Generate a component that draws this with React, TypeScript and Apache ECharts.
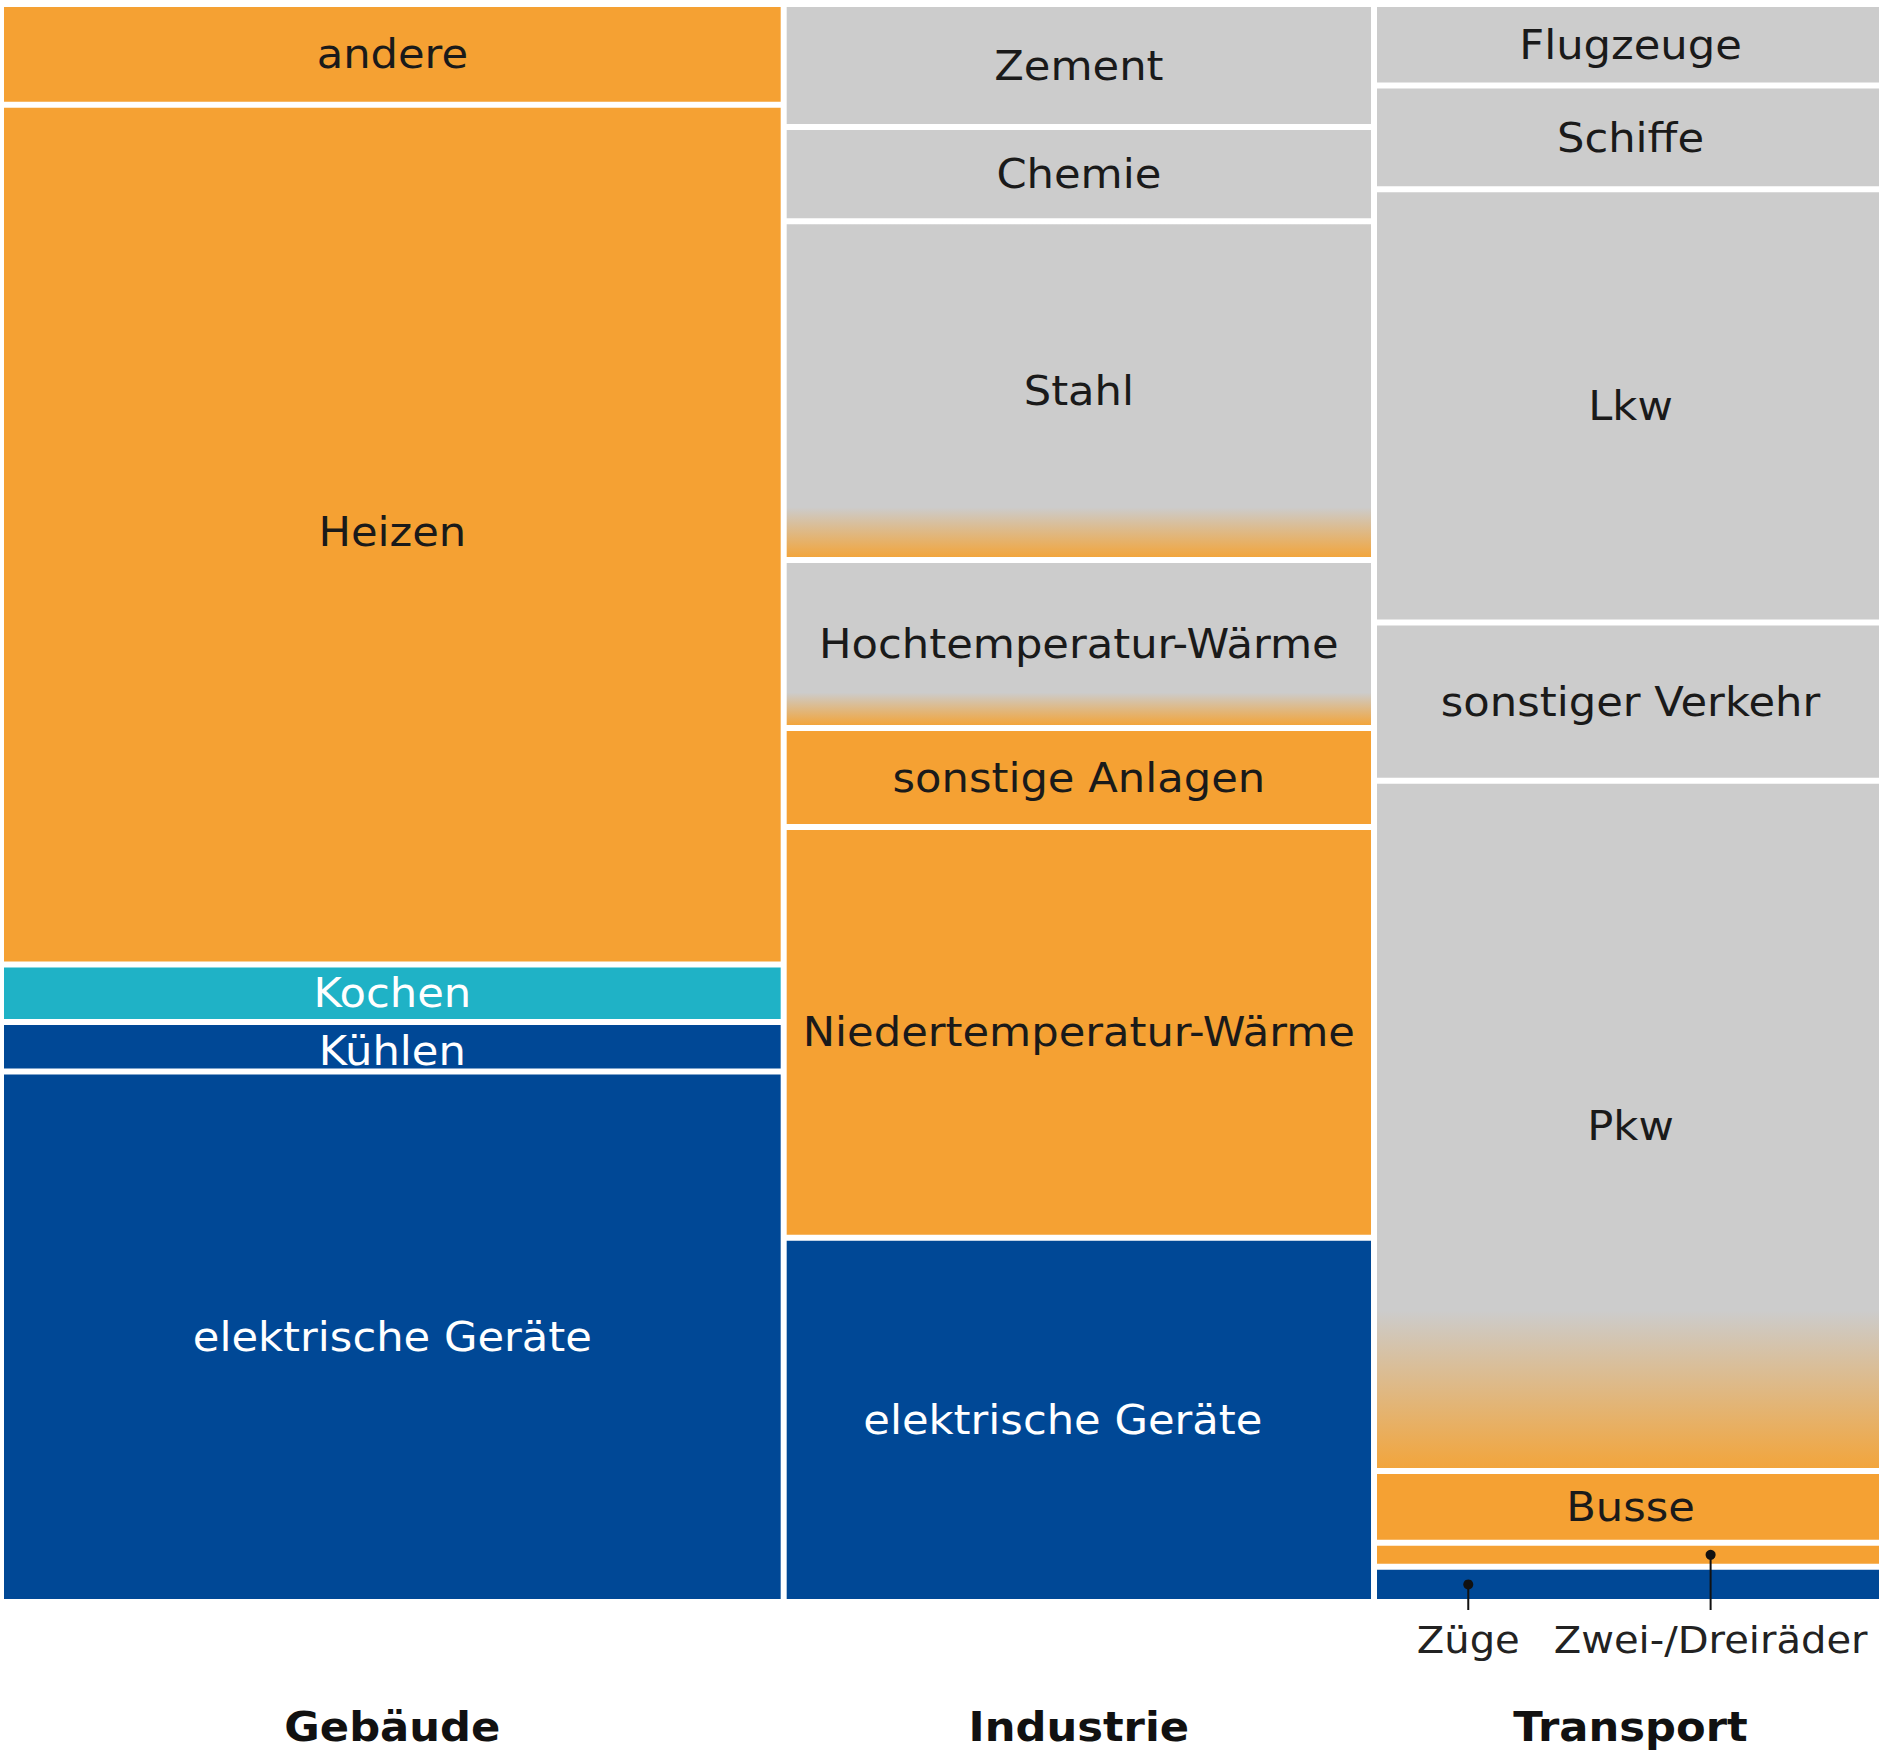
import React, { useEffect, useRef } from "react";
import * as echarts from "echarts";

// ---------- DATA ----------
const sectors = ["Gebäude", "Industrie", "Transport"];
const sectorShares = [41.5, 31.3, 27.2];

// segments listed bottom -> top, values are % within the sector
const gebaeudeLabels = ["elektrische Geräte", "Kühlen", "Kochen", "Heizen", "andere"];
const gebaeudeValues = [33.2, 3.1, 3.6, 53.8, 6.3];
const gebaeudeTypes = ["strom", "strom", "kochen", "waerme", "waerme"];

const industrieLabels = [
  "elektrische Geräte",
  "Niedertemperatur-Wärme",
  "sonstige Anlagen",
  "Hochtemperatur-Wärme",
  "Stahl",
  "Chemie",
  "Zement",
];
const industrieValues = [22.8, 25.7, 6.2, 10.5, 21.2, 5.9, 7.7];
const industrieTypes = ["strom", "waerme", "waerme", "mixed", "mixed", "grau", "grau"];

const transportLabels = [
  "Züge",
  "Zwei-/Dreiräder",
  "Busse",
  "Pkw",
  "sonstiger Verkehr",
  "Lkw",
  "Schiffe",
  "Flugzeuge",
];
const transportValues = [2.2, 1.5, 4.5, 43.2, 9.9, 27.1, 6.5, 5.1];
const transportTypes = ["strom", "waerme", "waerme", "mixed", "grau", "grau", "grau", "grau"];

// ---------- STYLES ----------
const COLORS: Record<string, string> = {
  strom: "#004896",
  waerme: "#F5A133",
  kochen: "#1FB2C6",
  grau: "#CCCCCC",
};
const TEXT_COLORS: Record<string, string> = {
  strom: "#FFFFFF",
  kochen: "#FFFFFF",
  waerme: "#1A1A1A",
  grau: "#1A1A1A",
  mixed: "#1A1A1A",
};
// where the grey->orange fade starts (fraction of cell height from top)
const FADE_START: Record<string, number> = {
  Stahl: 0.85,
  "Hochtemperatur-Wärme": 0.8,
  Pkw: 0.77,
};
// labels drawn outside the cell with a callout (horizontal position as fraction of the column)
const CALLOUTS: Record<string, number> = {
  "Züge": 0.18,
  "Zwei-/Dreiräder": 0.658,
};
const LABEL_DX: Record<string, number> = {
  "Industrie|elektrische Geräte": -16,
};
const LABEL_DY: Record<string, number> = {
  "Gebäude|Kühlen": 4,
  "Gebäude|Heizen": -3,
};
const GAP = 3;
const FONT = '"DejaVu Sans", sans-serif';
const TEXT_STRETCH = 1.055;

type Cell = {
  sector: string;
  label: string;
  type: string;
  x0: number;
  x1: number;
  y0: number;
  y1: number;
};

function buildCells(): Cell[] {
  const groups = [
    { labels: gebaeudeLabels, values: gebaeudeValues, types: gebaeudeTypes },
    { labels: industrieLabels, values: industrieValues, types: industrieTypes },
    { labels: transportLabels, values: transportValues, types: transportTypes },
  ];
  const cells: Cell[] = [];
  let x = 0;
  groups.forEach((g, gi) => {
    const w = sectorShares[gi];
    let y = 0;
    g.values.forEach((v, i) => {
      cells.push({
        sector: sectors[gi],
        label: g.labels[i],
        type: g.types[i],
        x0: x,
        x1: x + w,
        y0: y,
        y1: y + v,
      });
      y += v;
    });
    x += w;
  });
  return cells;
}

export default function App() {
  const ref = useRef<HTMLDivElement>(null);

  useEffect(() => {
    if (!ref.current) return;
    const chart = echarts.init(ref.current, undefined, { renderer: "svg" });
    const cells = buildCells();
    const calloutCells = cells.filter((c) => CALLOUTS[c.label] !== undefined);

    const sectorBounds: number[][] = [];
    let acc = 0;
    sectorShares.forEach((s) => {
      sectorBounds.push([acc, acc + s]);
      acc += s;
    });

    const cellSeries = {
      type: "custom",
      data: cells.map((c) => [c.x0, c.x1, c.y0, c.y1]),
      renderItem: (params: any, api: any) => {
        const c = cells[params.dataIndex];
        const tl = api.coord([c.x0, c.y1]);
        const br = api.coord([c.x1, c.y0]);
        const x = tl[0] + GAP;
        const y = tl[1] + GAP;
        const w = br[0] - tl[0] - 2 * GAP;
        const h = br[1] - tl[1] - 2 * GAP;
        let fill: any = COLORS[c.type];
        if (c.type === "mixed") {
          const s = FADE_START[c.label] ?? 0.8;
          fill = new echarts.graphic.LinearGradient(0, 0, 0, 1, [
            { offset: 0, color: COLORS.grau },
            { offset: s, color: COLORS.grau },
            { offset: 1, color: "#F2A53C" },
          ]);
        }
        const children: any[] = [
          { type: "rect", shape: { x, y, width: w, height: h }, style: { fill } },
        ];
        if (CALLOUTS[c.label] === undefined) {
          const key = c.sector + "|" + c.label;
          const dx = LABEL_DX[key] ?? 0;
          const dy = LABEL_DY[key] ?? 0;
          children.push({
            type: "text",
            z2: 10,
            x: x + w / 2 + dx,
            y: y + h / 2 + dy,
            scaleX: TEXT_STRETCH,
            style: {
              text: c.label,
              x: 0,
              y: 0,
              align: "center",
              verticalAlign: "middle",
              fill: TEXT_COLORS[c.type],
              fontSize: 41,
              fontFamily: FONT,
            },
          });
        }
        return { type: "group", children };
      },
    };

    const calloutSeries = {
      type: "custom",
      z: 5,
      data: calloutCells.map((c) => [c.x0, c.x1, c.y0, c.y1]),
      renderItem: (params: any, api: any) => {
        const c = calloutCells[params.dataIndex];
        const tl = api.coord([c.x0, c.y1]);
        const br = api.coord([c.x1, c.y0]);
        const base = api.coord([c.x0, 0]);
        const frac = CALLOUTS[c.label];
        const px = tl[0] + GAP + (br[0] - tl[0] - 2 * GAP) * frac;
        const py = (tl[1] + br[1]) / 2;
        const lineEnd = base[1] + 8;
        return {
          type: "group",
          children: [
            {
              type: "line",
              shape: { x1: px, y1: py, x2: px, y2: lineEnd },
              style: { stroke: "#111111", lineWidth: 2 },
            },
            { type: "circle", shape: { cx: px, cy: py, r: 5 }, style: { fill: "#111111" } },
            {
              type: "text",
              x: px,
              y: base[1] + 38,
              scaleX: TEXT_STRETCH,
              style: {
                text: c.label,
                x: 0,
                y: 0,
                align: "center",
                verticalAlign: "middle",
                fill: "#222222",
                fontSize: 38,
                fontFamily: FONT,
              },
            },
          ],
        };
      },
    };

    const sectorSeries = {
      type: "custom",
      data: sectorBounds.map((b) => [b[0], b[1]]),
      renderItem: (params: any, api: any) => {
        const b = sectorBounds[params.dataIndex];
        const p0 = api.coord([b[0], 0]);
        const p1 = api.coord([b[1], 0]);
        return {
          type: "text",
          x: (p0[0] + p1[0]) / 2,
          y: p0[1] + 125,
          scaleX: TEXT_STRETCH,
          style: {
            text: sectors[params.dataIndex],
            x: 0,
            y: 0,
            align: "center",
            verticalAlign: "middle",
            fill: "#111111",
            fontSize: 41,
            fontWeight: "bold",
            fontFamily: FONT,
          },
        };
      },
    };

    chart.setOption({
      animation: false,
      backgroundColor: "#FFFFFF",
      grid: { left: 1, top: 4, width: 1886, height: 1598 },
      xAxis: { type: "value", min: 0, max: 100, show: false },
      yAxis: { type: "value", min: 0, max: 100, show: false },
      tooltip: { show: false },
      series: [cellSeries, calloutSeries, sectorSeries],
    } as any);

    return () => chart.dispose();
  }, []);

  return (
    <div
      style={{
        position: "absolute",
        left: 0,
        top: 0,
        width: 1879,
        height: 1759,
        overflow: "hidden",
        background: "#fff",
      }}
    >
      <div ref={ref} style={{ width: 1900, height: 1759 }} />
    </div>
  );
}
